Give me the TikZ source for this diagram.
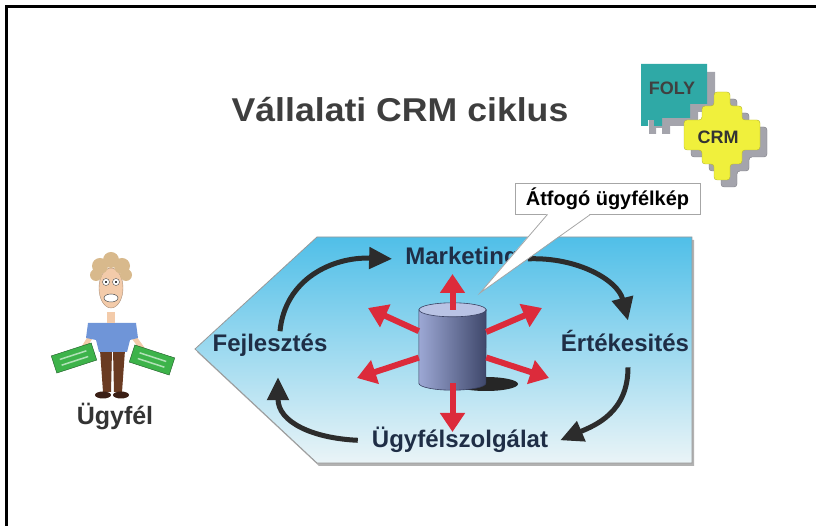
\documentclass[tikz,border=0pt]{standalone}
\usepackage{fontspec}
\setmainfont{Liberation Sans}
\usetikzlibrary{arrows.meta,positioning}

\definecolor{titlegray}{HTML}{3E3E3E}
\definecolor{labelblue}{HTML}{1F2E46}
\definecolor{loopgray}{HTML}{2C2C2C}
\definecolor{spokered}{HTML}{DC2B3B}
\definecolor{skytop}{HTML}{50BFE8}
\definecolor{skymid}{HTML}{A6DBEF}
\definecolor{skybottom}{HTML}{EAF4F7}
\definecolor{cylblue}{HTML}{7282C2}
\definecolor{cyltop}{HTML}{B9C3E4}
\definecolor{foly}{HTML}{2FA9A6}
\definecolor{crmyellow}{HTML}{F0F03C}
\definecolor{logoshadow}{HTML}{A4A4AC}
\definecolor{skin}{HTML}{F3CBAA}
\definecolor{shirt}{HTML}{6F95D8}
\definecolor{trousers}{HTML}{6A3B22}
\definecolor{shoe}{HTML}{3B1F15}
\definecolor{hair}{HTML}{D8B98C}
\definecolor{cash}{HTML}{3DB34A}

\begin{document}
\begin{tikzpicture}[x=1pt,y=1pt,
		phase/.style={font=\bfseries\fontsize{24}{26}\selectfont, text=labelblue, inner sep=3pt, anchor=base},
		looparrow/.style={draw=loopgray, line width=5pt, -{Triangle[length=23pt,width=21pt]}},
		spoke/.style={draw=spokered, line width=6pt, -{Triangle[length=19pt,width=24pt]}}]
		\useasboundingbox (0,0) rectangle (816,526);
		\draw[line width=3pt] (6,0) -- (6,519) -- (816,519);

		% title and logo
		\node[font=\bfseries\fontsize{33}{36}\selectfont, text=titlegray, anchor=base, xscale=1.08] (title) at (400,404) {Vállalati CRM ciklus};
		\foreach \s/\c in {8/logoshadow, 0/foly} {
			\fill[\c, shift={(\s,-\s)}] (641,462) -- (707,462) -- (707,422) -- (690,422) -- (690,408) -- (662,408) -- (662,400) -- (654,400) -- (654,406) -- (648,406) -- (648,400) -- (641,400) -- cycle;
		}
		\node[font=\bfseries\fontsize{18}{20}\selectfont, text=black!75] (foly) at (672,438) {FOLY};
		\begin{scope}[shift={(722,390)}]
			\foreach \s/\c in {7/logoshadow, 0/crmyellow} {
				\filldraw[fill=\c, draw=\c!75!black, rounded corners=3pt, shift={(\s,-\s)}] (-8,44) -- (8,44) -- (8,30) -- (20,30) -- (20,16) -- (38,16) -- (38,-14) -- (20,-14) -- (20,-28) -- (8,-28) -- (8,-44) -- (-8,-44) -- (-8,-28) -- (-20,-28) -- (-20,-14) -- (-38,-14) -- (-38,16) -- (-20,16) -- (-20,30) -- (-8,30) -- cycle;
			}
		\end{scope}
		\node[font=\bfseries\fontsize{18}{20}\selectfont, text=black!80] (crm) at (718,389) {CRM};

		% the cycle area
		\fill[black!30, shift={(2,-3)}] (195,177) -- (317,289) -- (692,289) -- (692,63) -- (317,63) -- cycle;
		\draw[draw=gray!80, line width=0.8pt, top color=skytop, middle color=skymid, bottom color=skybottom] (195,177) -- (317,289) -- (692,289) -- (692,63) -- (317,63) -- cycle;

		\node[phase] (mkt) at (462,261) {Marketing};
		\node[phase] (fej) at (270,174) {Fejlesztés};
		\node[phase] (ert) at (625,174) {Értékesités};
		\node[phase] (ugy) at (460,78) {Ügyfélszolgálat};

		\draw[looparrow] ([xshift=10pt]fej.north) .. controls +(5,52) and +(-60,2) .. ([xshift=-10pt]mkt.west);
		\draw[looparrow] ([xshift=6pt]mkt.east) .. controls +(50,2) and +(-10,40) .. ([xshift=3pt,yshift=7pt]ert.north);
		\draw[looparrow] ([xshift=3pt,yshift=-12pt]ert.south) .. controls +(0,-45) and +(35,15) .. ([xshift=9pt]ugy.east);
		\draw[looparrow] ([xshift=-11pt]ugy.west) .. controls +(-45,2) and +(0,-45) .. ([xshift=8pt,yshift=-17pt]fej.south);

		% database
		\node[minimum width=67pt, minimum height=73pt, inner sep=0pt] (db) at (452.5,179.5) {};
		\fill[black!85] (486,142) ellipse [x radius=32, y radius=7];
		\draw[draw=cylblue!50!black, line width=0.6pt, left color=cylblue!70!white, right color=cylblue!55!black] (db.north west) -- (db.south west) arc[start angle=180, end angle=360, x radius=33.5, y radius=7] -- (db.north east) -- cycle;
		\filldraw[fill=cyltop, draw=cylblue!50!black, line width=0.6pt] (db.north) ellipse [x radius=33.5, y radius=7];
		\foreach \tip/\x/\y in {n/452.5/252, nw/368/218, ne/542/218, sw/357/148, se/549/148, s/452.5/94} {
			\coordinate (spoke-\tip) at (\x,\y);
			\draw[spoke] (db) -- (spoke-\tip);
		}

		% speech bubble
		\node[draw=gray!70, fill=white, line width=0.8pt, minimum width=185pt, minimum height=31pt, font=\bfseries\fontsize{20}{22}\selectfont] (note) at (607.5,327.5) {Átfogó ügyfélkép};
		\coordinate (talk) at (480,233);
		\fill[white] ([xshift=-60pt,yshift=0.8pt]note.south) -- (talk) -- ([xshift=-17pt,yshift=0.8pt]note.south) -- cycle;
		\draw[gray!70, line width=0.8pt] ([xshift=-60pt]note.south) -- (talk) -- ([xshift=-17pt]note.south);

		% customer
		\fill[trousers] (100,176) -- (112,176) -- (111,134) -- (103,134) -- cycle;
		\fill[trousers] (113,176) -- (125,176) -- (122,134) -- (114,134) -- cycle;
		\fill[shoe] (103,131) ellipse [x radius=8, y radius=3.5];
		\fill[shoe] (121,131) ellipse [x radius=8, y radius=3.5];
		\draw[skin, line width=5pt, line cap=round] (91,190) -- (80,172);
		\draw[skin, line width=5pt, line cap=round] (133,190) -- (146,172);
		\fill[shirt] (88,203) -- (136,203) -- (138,188) -- (130,186) -- (127,174) -- (99,174) -- (96,186) -- (86,188) -- cycle;
		\fill[skin] (107,214) rectangle (115,203);
		\foreach \cx/\cy/\r in {74/168/18, 152/166/-18} {
			\filldraw[fill=cash, draw=cash!50!black, rotate around={\r:(\cx,\cy)}] (\cx-21,\cy-9) rectangle (\cx+21,\cy+9);
			\draw[cash!40!white, line width=1.5pt, rotate around={\r:(\cx,\cy)}] (\cx-14,\cy-3) -- (\cx+14,\cy-3) (\cx-14,\cy+3) -- (\cx+14,\cy+3);
		}
		\filldraw[fill=skin, draw=skin!70!black, line width=0.4pt] (111,238) ellipse [x radius=12, y radius=20];
		\foreach \hx/\hy/\hr in {100/260/8, 111/266/8, 122/260/8, 96/251/6, 126/251/6} {
			\fill[hair] (\hx,\hy) circle [radius=\hr];
		}
		\foreach \ex in {106,116} {
			\filldraw[fill=white, draw=black!70, line width=0.4pt] (\ex,244) circle [radius=3.5];
			\fill[black] (\ex,244) circle [radius=1.2];
		}
		\filldraw[fill=white, draw=black!70, line width=0.5pt] (111,228) ellipse [x radius=7, y radius=4];
		\node[font=\bfseries\fontsize{25}{28}\selectfont, text=black!80, anchor=base] (client) at (115,101) {Ügyfél};
\end{tikzpicture}
\end{document}
